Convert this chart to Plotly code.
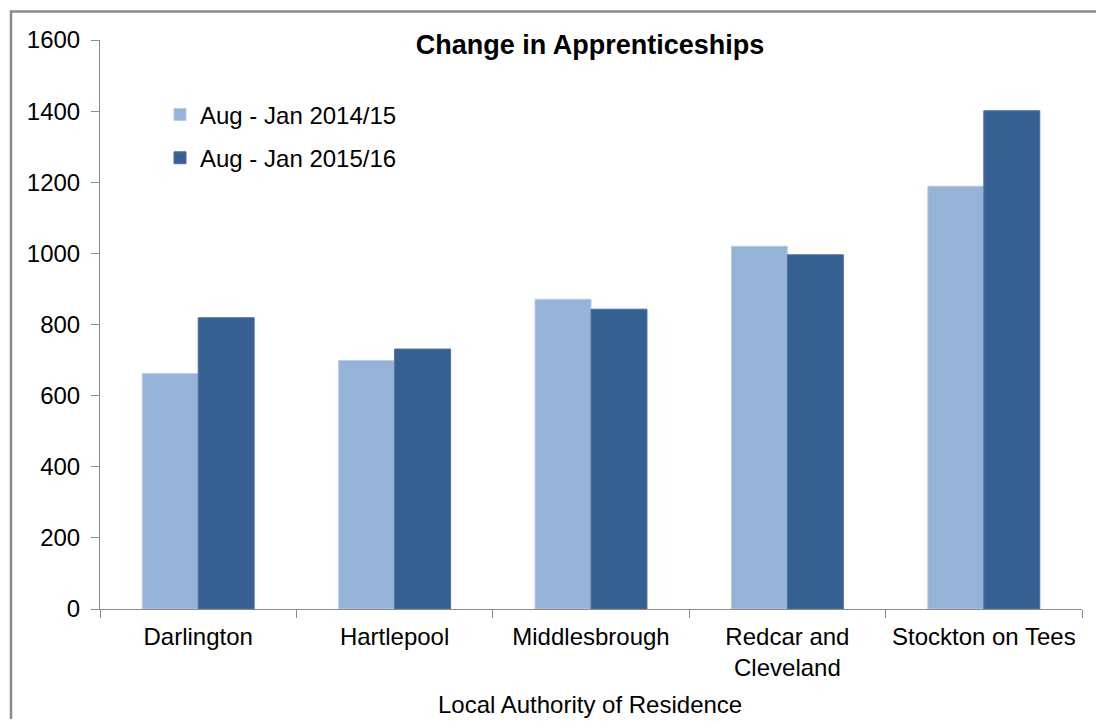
import plotly.graph_objects as go

categories = ["Darlington", "Hartlepool", "Middlesbrough", "Redcar and<br>Cleveland", "Stockton on Tees"]
series_2014 = [662, 699, 871, 1020, 1189]
series_2015 = [819, 731, 843, 996, 1401]
series_names = ["Aug - Jan 2014/15", "Aug - Jan 2015/16"]
y_ticks = [0, 200, 400, 600, 800, 1000, 1200, 1400, 1600]
x_title = "Local Authority of Residence"

FONT = "Liberation Sans, Arial, sans-serif"
OFF = 8  # page body margin
W, H = 1104 - 2 * OFF, 727 - 2 * OFF
# plot area in page coordinates: x 100..1082, y 39.5..609
L = 100 - OFF
R = W - (1082 - OFF)
T = 39.5 - OFF
B = H - (609 - OFF)

pw = W - L - R
ph = H - T - B


def px(xpage):
    return (xpage - OFF - L) / pw


def py(ypage):
    return (H - B - (ypage - OFF)) / ph


fig = go.Figure()
fig.add_trace(go.Bar(x=categories, y=series_2014, name=series_names[0],
                     marker=dict(color="#95B3D7", line=dict(color="#B9CDE5", width=1)),
                     legendgroup="a"))
fig.add_trace(go.Bar(x=categories, y=series_2015, name=series_names[1],
                     marker=dict(color="#366092", line=dict(color="#4F6FA0", width=1)),
                     legendgroup="b"))

fig.update_layout(
    width=W, height=H,
    margin=dict(l=L, r=R, t=T, b=B, autoexpand=False),
    paper_bgcolor="white", plot_bgcolor="white",
    font=dict(family=FONT, size=24, color="black"),
    barmode="group", bargap=0.43, bargroupgap=0,
    title=dict(text="<b>Change in Apprenticeships</b>", x=(590 - OFF) / W, xanchor="center",
               y=1 - (45 - OFF) / H, yanchor="middle", font=dict(size=27, family=FONT)),
    legend=dict(x=px(160), y=py(92), xanchor="left", yanchor="top",
                bgcolor="rgba(0,0,0,0)", font=dict(size=24, family=FONT),
                traceorder="grouped", tracegroupgap=9, itemwidth=30),
    xaxis=dict(
        showline=True, linecolor="#8C8C8C", linewidth=1,
        ticks="outside", tickson="boundaries", ticklen=8, tickcolor="#8C8C8C",
        tickfont=dict(size=24, family=FONT), ticklabelstandoff=6,
        showgrid=False, automargin=False,
    ),
    yaxis=dict(
        range=[0, 1600], tickvals=y_ticks, showline=True, linecolor="#8C8C8C", linewidth=1,
        ticks="outside", ticklen=8, tickcolor="#8C8C8C", showgrid=False, zeroline=False,
        tickfont=dict(size=24, family=FONT), ticklabelstandoff=6, automargin=False,
    ),
    annotations=[dict(text=x_title, xref="paper", yref="paper", x=px(590), y=py(705),
                      xanchor="center", yanchor="middle", showarrow=False,
                      font=dict(size=24, family=FONT, color="black"))],
    shapes=[dict(type="rect", xref="paper", yref="paper",
                 x0=px(11), x1=px(1115), y0=py(740), y1=py(11),
                 line=dict(color="#8A8A8A", width=2.5), fillcolor="rgba(0,0,0,0)", layer="below")],
)

fig.write_html("out.html")
